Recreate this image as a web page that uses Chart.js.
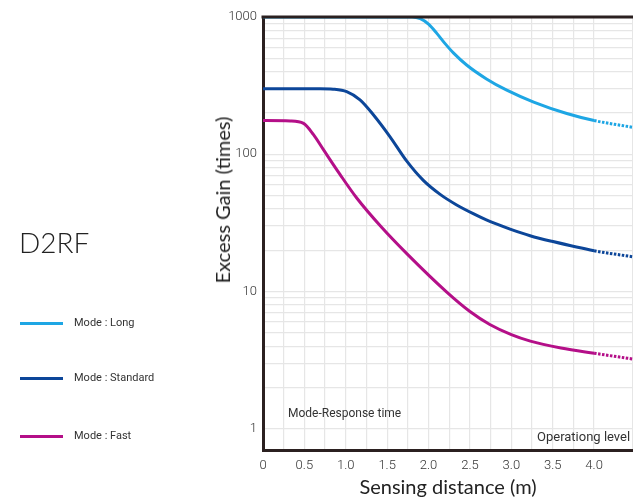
<!DOCTYPE html>
<html>
<head>
<meta charset="utf-8">
<script src="https://cdn.jsdelivr.net/npm/chart.js@4"></script>
<style>
  body { margin: 0; background: #fff; }
  #wrap { position: relative; width: 633px; height: 500px; }
  #gainChart { position: absolute; left: 0; top: 0; }
  .txt { position: absolute; white-space: nowrap; color: #333; font-family: Roboto, sans-serif; }
  .key { position: absolute; left: 20px; width: 43px; height: 3px; }
</style>
</head>
<body>
<div id="wrap">
  <canvas id="gainChart" width="633" height="500"></canvas>
  <div class="txt" style="left:19px;top:225px;font:300 28px Lato, sans-serif;color:#222;">D2RF</div>
  <div class="key" style="top:322px;background:#1ea6e4;"></div>
  <div class="key" style="top:377px;background:#0c4699;"></div>
  <div class="key" style="top:435px;background:#b40f88;"></div>
  <div class="txt" style="left:74px;top:316px;font-size:11px;">Mode : Long</div>
  <div class="txt" style="left:74px;top:371px;font-size:11px;">Mode : Standard</div>
  <div class="txt" style="left:74px;top:429px;font-size:11px;">Mode : Fast</div>
  <div class="txt" style="left:288px;top:406px;font-size:12px;">Mode-Response time</div>
  <div class="txt" style="left:537px;top:429px;font-size:13px;">Operationg level</div>
  <div class="txt" style="left:222px;top:200px;font:20px Lato, sans-serif;color:#222;transform:translate(-50%,-50%) rotate(-90deg);">Excess Gain (times)</div>
</div>
<script>
// distances (m) and excess gain
const longDist = [0, 1.0, 1.8, 1.9, 2.0, 2.1, 2.2, 2.3, 2.46, 2.7, 2.945, 3.27, 3.67, 4.0, 4.47];
const longGain = [1000, 1000, 1000, 972, 886, 760, 640, 548, 447, 354, 293, 240, 198, 176, 157];

const stdDist = [0, 0.69, 0.846, 1.011, 1.172, 1.333, 1.535, 1.737, 1.937, 2.14, 2.34, 2.54, 2.74, 2.985, 3.227, 3.49, 4.0, 4.47];
const stdGain = [300, 300, 298, 286, 249, 194, 134, 89, 64.5, 51, 42.7, 36.9, 32.4, 28.5, 25.5, 23.2, 19.8, 17.9];

const fastDist = [0, 0.33, 0.49, 0.61, 0.73, 0.93, 1.13, 1.43, 1.74, 2.22, 2.5, 2.74, 3.0, 3.23, 3.6, 4.0, 4.47];
const fastGain = [176, 175, 168, 139, 108, 71.3, 48.2, 29.5, 18.8, 9.9, 7.15, 5.75, 4.85, 4.35, 3.88, 3.55, 3.22];

const yMajor = [1, 10, 100, 1000];
const xLabelMax = 4.0;   // beyond this the curves are dotted, no tick labels

function pts(xs, ys) {
    return xs.map((x, i) => ({ x: x, y: ys[i] }));
}

function makeSet(label, xs, ys, color) {
    return {
        label: label,
        data: pts(xs, ys),
        borderColor: color,
        borderWidth: 3,
        pointRadius: 0,
        cubicInterpolationMode: 'monotone',
        segment: {
            borderDash: ctx => ctx.p0.parsed.x >= xLabelMax ? [2.5, 1.5] : undefined
        }
    };
}

const topBorder = {
    id: 'topBorder',
    afterDatasetsDraw(chart) {
        const a = chart.chartArea;
        const c = chart.ctx;
        c.save();
        c.strokeStyle = '#2b2020';
        c.lineWidth = 3;
        c.beginPath();
        c.moveTo(a.left - 1.5, a.top);
        c.lineTo(a.right, a.top);
        c.stroke();
        c.restore();
    }
};

const tickFont = { family: 'Roboto', size: 13, weight: 300 };

new Chart(document.getElementById('gainChart').getContext('2d'), {
    type: 'line',
    data: {
        datasets: [
            makeSet('Mode : Long', longDist, longGain, '#1ea6e4'),
            makeSet('Mode : Standard', stdDist, stdGain, '#0c4699'),
            makeSet('Mode : Fast', fastDist, fastGain, '#b40f88')
        ]
    },
    options: {
        responsive: false,
        animation: false,
        layout: { padding: { left: 212, top: 17, right: 0, bottom: 0 } },
        plugins: { legend: { display: false }, tooltip: { enabled: false } },
        scales: {
            x: {
                type: 'linear',
                min: 0,
                max: 4.47,
                afterFit: s => { s.height = 50; s.paddingLeft = 0; s.paddingRight = 0; },
                border: { color: '#2b2020', width: 3 },
                grid: { color: '#e6e6e6', lineWidth: 1.2, drawTicks: false },
                ticks: {
                    stepSize: 0.25,
                    padding: 8,
                    maxRotation: 0,
                    autoSkip: false,
                    color: '#333',
                    font: tickFont,
                    callback: v => (v % 0.5 === 0 && v <= xLabelMax) ? (v === 0 ? '0' : v.toFixed(1)) : ''
                },
                title: {
                    display: true,
                    text: 'Sensing distance (m)',
                    color: '#222',
                    font: { family: 'Lato', size: 20 },
                    padding: { top: 0, bottom: 0 }
                }
            },
            y: {
                type: 'logarithmic',
                min: 0.7,
                max: 1000,
                afterFit: s => { s.width = 51; },
                afterBuildTicks: s => {
                    const t = [];
                    [1, 10, 100].forEach(d => {
                        for (let k = 1; k < 10; k++) t.push({ value: d * k });
                    });
                    t.push({ value: 1000 });
                    s.ticks = t;
                },
                border: { color: '#2b2020', width: 3 },
                grid: { color: '#e6e6e6', lineWidth: 1.2, drawTicks: false },
                ticks: {
                    autoSkip: false,
                    padding: 6,
                    color: '#333',
                    font: tickFont,
                    callback: v => yMajor.includes(v) ? String(v) : ''
                }
            }
        }
    },
    plugins: [topBorder]
});
</script>
</body>
</html>
